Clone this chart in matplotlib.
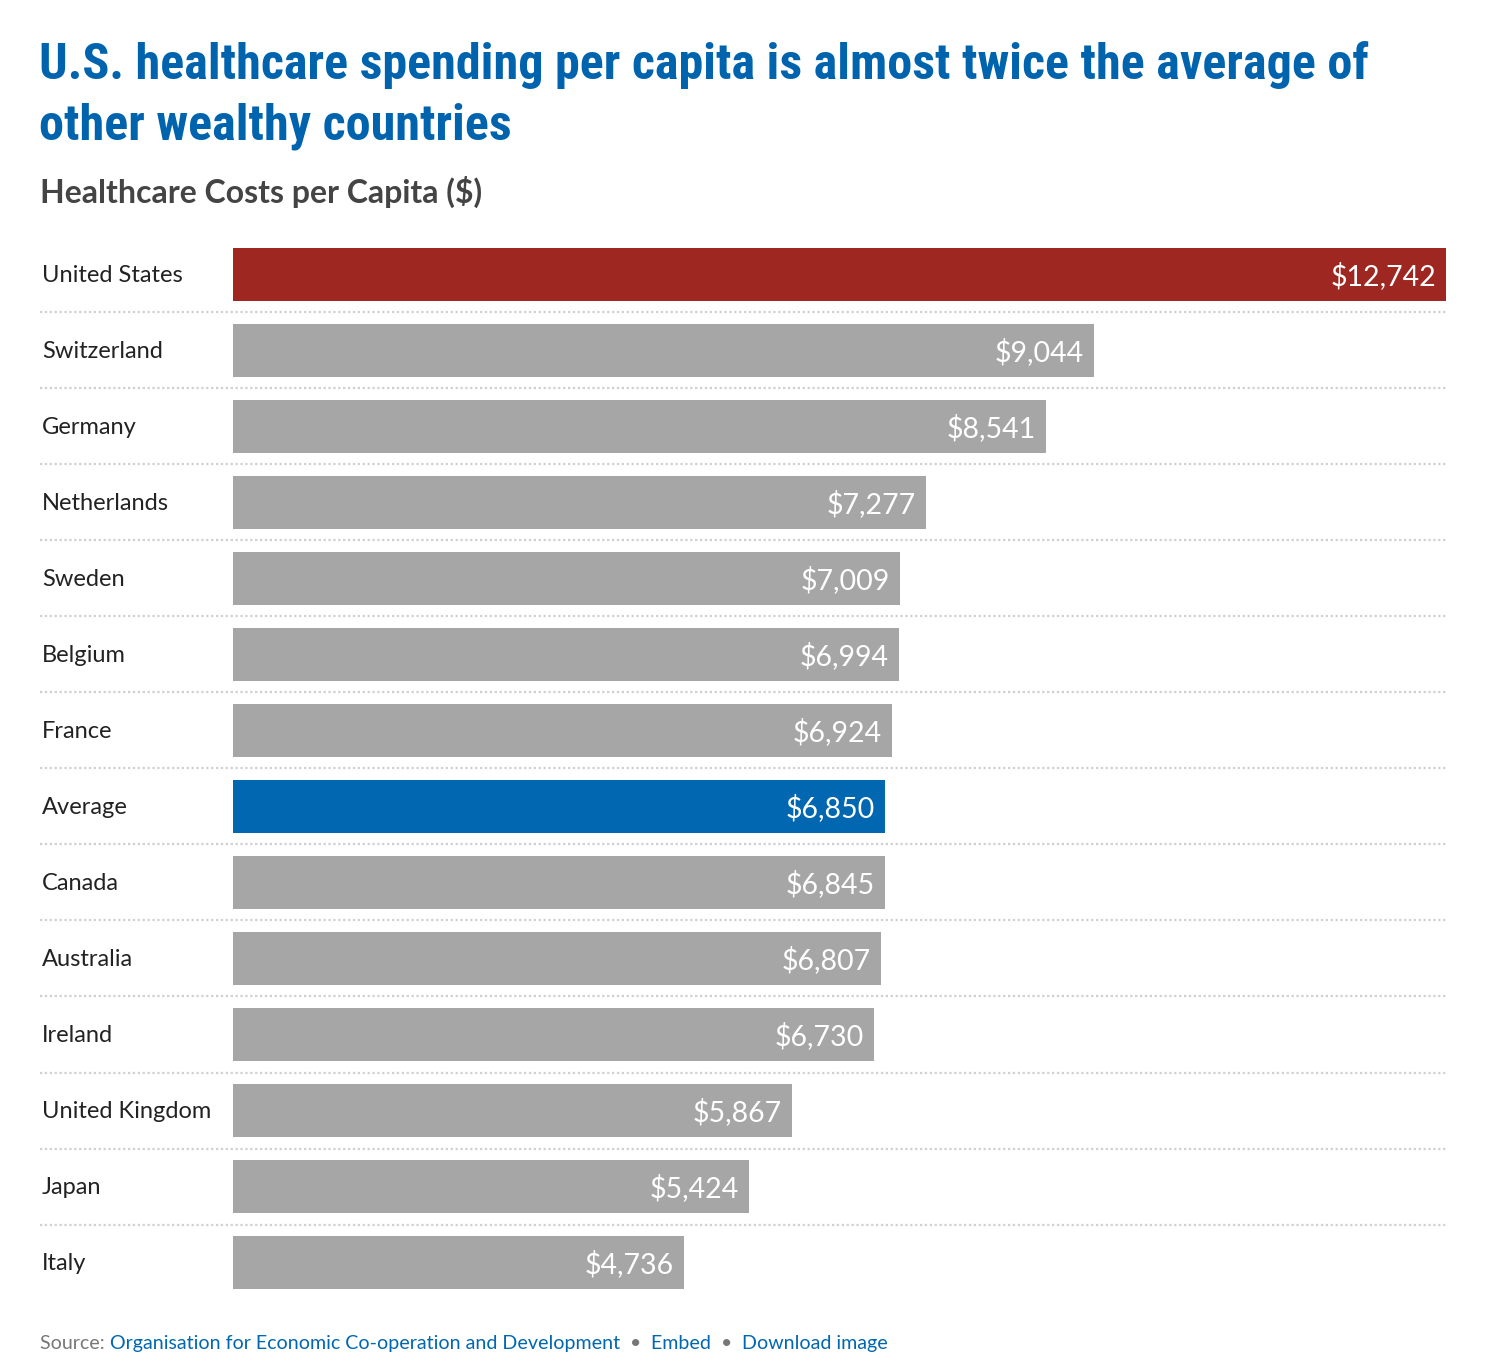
import matplotlib
matplotlib.use('Agg')
import matplotlib.pyplot as plt
from matplotlib import font_manager as fm

# data
countries = ['United States', 'Switzerland', 'Germany', 'Netherlands', 'Sweden',
             'Belgium', 'France', 'Average', 'Canada', 'Australia', 'Ireland',
             'United Kingdom', 'Japan', 'Italy']
costs = [12742, 9044, 8541, 7277, 7009, 6994, 6924, 6850, 6845, 6807, 6730,
         5867, 5424, 4736]
highlight = {'United States': '#9E2721', 'Average': '#0067B0'}

title = 'U.S. healthcare spending per capita is almost twice the average of\nother wealthy countries'
subtitle = 'Healthcare Costs per Capita ($)'

# condensed font for the title, if there is one
have = set(f.name for f in fm.fontManager.ttflist)
title_font, title_size = 'DejaVu Sans', 25
for name, size in [('Roboto Condensed', 36.1), ('Fira Sans Condensed', 33), ('Barlow Condensed', 38)]:
  if name in have:
    title_font, title_size = name, size
    break

W, H = 1488, 1361
fig = plt.figure(figsize=(W / 100, H / 100), dpi=100)
fig.patch.set_facecolor('white')

def fx(px):
  return px / W

def fy(py):
  return 1 - py / H

# title + subtitle
fig.text(fx(39), fy(79), title.split('\n')[0], family=[title_font, 'DejaVu Sans'], weight='bold',
         fontsize=title_size, color='#0063AE', va='baseline')
fig.text(fx(39), fy(139), title.split('\n')[1], family=[title_font, 'DejaVu Sans'], weight='bold',
         fontsize=title_size, color='#0063AE', va='baseline')
fig.text(fx(40), fy(203), subtitle, family=['Lato', 'DejaVu Sans'],
         weight='bold', fontsize=23, color='#444444', va='baseline')

# bars
row = 76
top = 274.5 - row / 2
ax = fig.add_axes([fx(233), fy(top + row * len(countries)), fx(1446) - fx(233), row * len(countries) / H])
ypos = list(range(len(countries)))
colors = [highlight.get(c, '#A6A6A6') for c in countries]
ax.barh(ypos, costs, height=53 / row, color=colors, zorder=2)
ax.set_xlim(0, max(costs))
ax.set_ylim(len(countries) - 0.5, -0.5)
ax.axis('off')

lab_x = -(233 - 42) / (1446 - 233)
sep_x = -(233 - 40) / (1446 - 233)
tr = ax.get_yaxis_transform()
for i, (c, v) in enumerate(zip(countries, costs)):
  ax.annotate(c, (lab_x, i), xycoords=tr, xytext=(0, -1), textcoords='offset pixels',
              family=['Lato', 'DejaVu Sans'], fontsize=17, color='#222222', va='center', ha='left')
  ax.annotate('${:,}'.format(v), (v, i), xytext=(-10, -2), textcoords='offset pixels',
              family=['Lato', 'DejaVu Sans'], fontsize=20.5, color='white',
              va='center', ha='right', zorder=3)
  if i < len(countries) - 1:
    ax.plot([sep_x, 1], [i + 0.5, i + 0.5], transform=tr, clip_on=False,
            color='#D0D0D0', lw=1.6, ls=(0, (1, 1.2)), zorder=1)

# footer
parts = [('Source: ', '#777777'), ('Organisation for Economic Co-operation and Development', '#0067B0'),
         ('  \u2022 ', '#777777'), (' Embed', '#0067B0'), ('  \u2022 ', '#777777'),
         (' Download image', '#0067B0')]
fig.canvas.draw()
r = fig.canvas.get_renderer()
x = 40
for s, col in parts:
  t = fig.text(fx(x), fy(1349), s, family=['Lato', 'DejaVu Sans'], fontsize=14.1,
               color=col, va='baseline')
  x += t.get_window_extent(renderer=r).width

fig.savefig('out.png', dpi=100, facecolor='white')
